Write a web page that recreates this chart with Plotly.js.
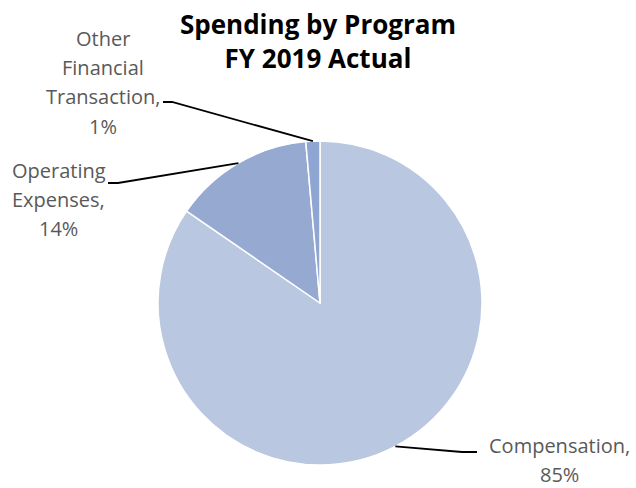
<!DOCTYPE html>
<html>
<head>
<meta charset="utf-8">
<script src="https://cdn.plot.ly/plotly-3.0.1.min.js"></script>
<style>html,body{margin:0;padding:0;background:#fff;}#chart{width:636px;height:488px;}</style>
</head>
<body>
<div id="chart"></div>
<script>
// ---- data ----
var categories = ["Compensation", "Operating Expenses", "Other Financial Transaction"];
var values = [84.6, 14.0, 1.4];
var colors = ["#bac7e1", "#95a9d1", "#8fa6d3"];
var labelLines = [["Compensation,"], ["Operating", "Expenses,"], ["Other", "Financial", "Transaction,"]];
var titleText = "Spending by Program<br>FY 2019 Actual";

// ---- layout geometry (pixels) ----
var W = 636, H = 488;
var cx = 320, cy = 303, R = 162;
var FONT = "'Open Sans', 'Liberation Sans', sans-serif";
// label text centres (first line) and leader elbows/anchors
var labelPos = [
  {x: 559, y: 445, elbow: [462, 452], end: [477, 452]},
  {x: 59, y: 170, elbow: [118, 183], end: [108, 183]},
  {x: 103, y: 38, elbow: [172, 102], end: [163, 102]}
];
var lineGap = 29.5;

function px2x(p) { return p / W; }
function py2y(p) { return 1 - p / H; }

var total = values.reduce(function (a, b) { return a + b; }, 0);
var annotations = [];
var shapes = [];
var cum = 0;
values.forEach(function (v, i) {
  var mid = (cum + v / 2) / total * 2 * Math.PI;
  cum += v;
  var ex = cx + R * Math.sin(mid);
  var ey = cy - R * Math.cos(mid);
  var pct = Math.round(v / total * 100) + "%";
  var lines = labelLines[i].concat([pct]);
  var lp = labelPos[i];
  lines.forEach(function (t, k) {
    annotations.push({
      xref: "paper", yref: "paper",
      x: px2x(lp.x), y: py2y(lp.y + k * lineGap),
      text: t, showarrow: false, xanchor: "center", yanchor: "middle",
      font: {family: FONT, size: 20, color: "#595959"}
    });
  });
  shapes.push({
    type: "path", xref: "paper", yref: "paper",
    path: "M " + px2x(ex) + "," + py2y(ey) +
          " L " + px2x(lp.elbow[0]) + "," + py2y(lp.elbow[1]) +
          " L " + px2x(lp.end[0]) + "," + py2y(lp.end[1]),
    line: {color: "#000000", width: 1.8}
  });
});

var trace = {
  type: "pie",
  labels: categories,
  values: values,
  sort: false,
  direction: "clockwise",
  rotation: 0,
  textinfo: "none",
  hoverinfo: "label+percent",
  marker: {colors: colors, line: {color: "#ffffff", width: 1.5}},
  domain: {x: [(cx - R) / W, (cx + R) / W], y: [1 - (cy + R) / H, 1 - (cy - R) / H]},
  showlegend: false
};

var layout = {
  width: W, height: H,
  margin: {l: 0, r: 0, t: 0, b: 0},
  paper_bgcolor: "#ffffff",
  showlegend: false,
  title: {
    text: "<b>" + titleText.replace("<br>", "</b><br><b>") + "</b>",
    x: 0.5, xanchor: "center", y: 1 - 34 / H, yanchor: "middle",
    font: {family: FONT, size: 26, color: "#000000"}
  },
  annotations: annotations,
  shapes: shapes
};

Plotly.newPlot("chart", [trace], layout, {displayModeBar: false, staticPlot: true});
</script>
</body>
</html>
